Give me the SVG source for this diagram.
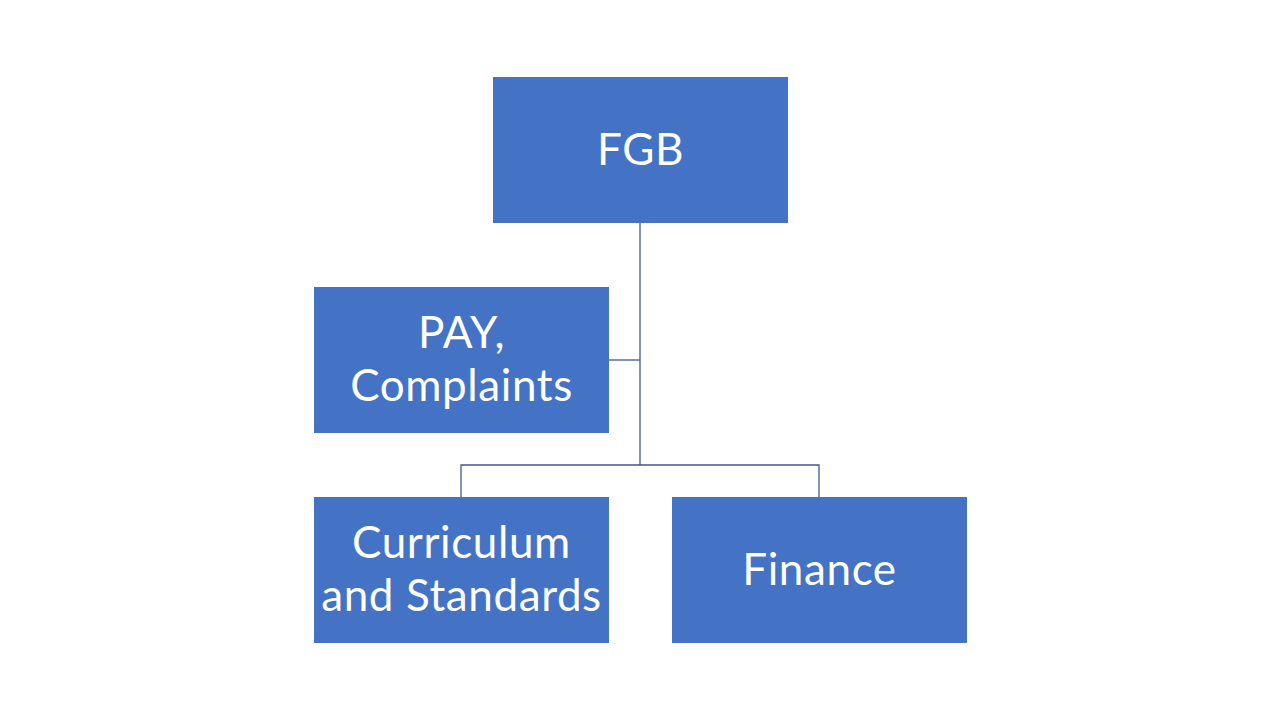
<svg xmlns="http://www.w3.org/2000/svg" width="1280" height="720" viewBox="0 0 1280 720">
<style>
.box{fill:#4472C4;}
.t{font-family:Lato,"Open Sans","Liberation Sans",sans-serif;font-size:44px;fill:#FFFFFF;text-anchor:middle;letter-spacing:0.6px;}
.c{stroke:#3E5A8C;stroke-width:1.3;fill:none;}
</style>
<rect width="1280" height="720" fill="#FFFFFF"/>
<g id="connectors">
<path class="c" d="M640,223 V465"/>
<path class="c" d="M609,360 H640"/>
<path class="c" d="M461,497 V465 H819 V497"/>
</g>
<g id="fgb">
<rect class="box" x="493" y="77" width="295" height="146"/>
<text class="t" x="640.5" y="165">FGB</text>
</g>
<g id="pay">
<rect class="box" x="314" y="287" width="295" height="146"/>
<text class="t" x="461.5" y="348">PAY,</text>
<text class="t" x="461.5" y="401">Complaints</text>
</g>
<g id="curriculum">
<rect class="box" x="314" y="497" width="295" height="146"/>
<text class="t" x="461.5" y="558">Curriculum</text>
<text class="t" x="461.5" y="611">and Standards</text>
</g>
<g id="finance">
<rect class="box" x="672" y="497" width="295" height="146"/>
<text class="t" x="819.5" y="585">Finance</text>
</g>
</svg>
